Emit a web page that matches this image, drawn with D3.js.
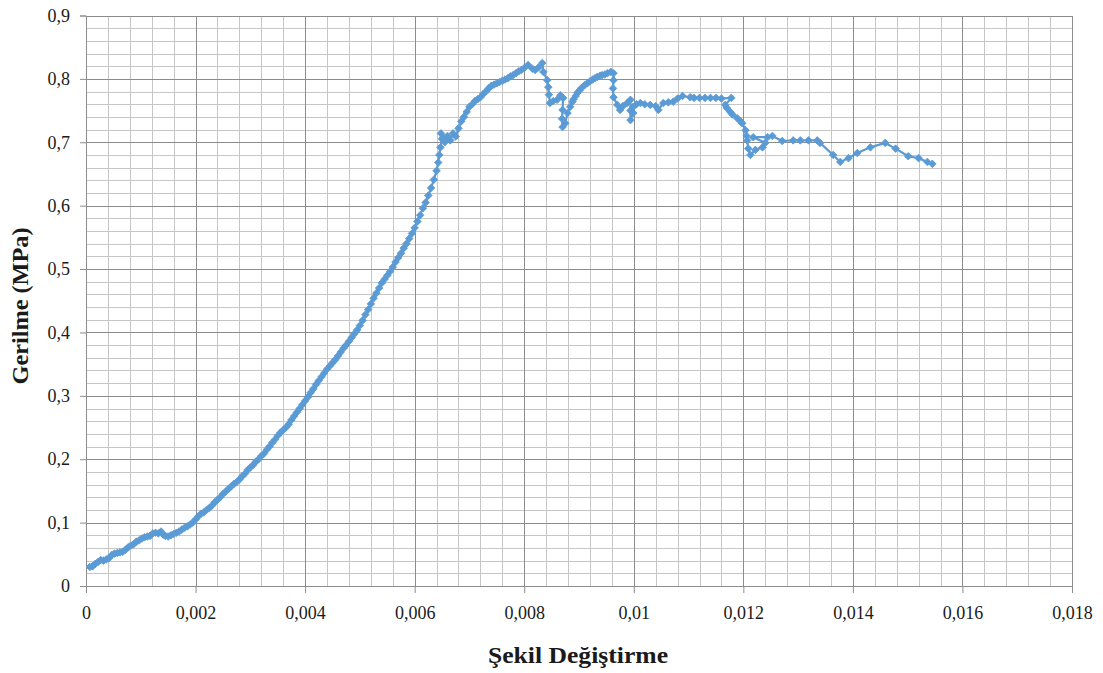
<!DOCTYPE html>
<html>
<head>
<meta charset="utf-8">
<script src="https://cdn.jsdelivr.net/npm/d3@7"></script>
<style>
  html, body { margin: 0; padding: 0; background: #fff; }
  svg { display: block; }
</style>
</head>
<body>
<svg id="chart" width="1103" height="673"></svg>
<script>
// Strain (Şekil Değiştirme) readings, one row of ten per line
const strainValues = [
  0.00007, 0.00012, 0.00017, 0.00022, 0.00027, 0.00032, 0.00037, 0.00042, 0.00047, 0.00052,
  0.00057, 0.00062, 0.00067, 0.00072, 0.00077, 0.00082, 0.00087, 0.00092, 0.00097, 0.00102,
  0.00107, 0.00112, 0.00117, 0.00122, 0.00127, 0.00132, 0.00137, 0.00141, 0.00145, 0.0015,
  0.00155, 0.0016, 0.00165, 0.0017, 0.00175, 0.0018, 0.00185, 0.0019, 0.00195, 0.0020,
  0.00205, 0.0021, 0.00215, 0.0022, 0.00225, 0.0023, 0.00235, 0.0024, 0.00245, 0.0025,
  0.00255, 0.0026, 0.00265, 0.0027, 0.00275, 0.0028, 0.00285, 0.0029, 0.00295, 0.0030,
  0.00305, 0.0031, 0.00315, 0.0032, 0.00325, 0.0033, 0.00335, 0.0034, 0.00345, 0.0035,
  0.00355, 0.0036, 0.00365, 0.0037, 0.00375, 0.0038, 0.00385, 0.0039, 0.00395, 0.0040,
  0.00405, 0.0041, 0.00415, 0.0042, 0.00425, 0.0043, 0.00435, 0.0044, 0.00445, 0.0045,
  0.00455, 0.0046, 0.00465, 0.0047, 0.00475, 0.0048, 0.00485, 0.0049, 0.00495, 0.0050,
  0.00505, 0.0051, 0.00515, 0.0052, 0.00525, 0.0053, 0.00535, 0.0054, 0.00545, 0.0055,
  0.00555, 0.0056, 0.00565, 0.0057, 0.00575, 0.0058, 0.00585, 0.0059, 0.00595, 0.0060,
  0.00605, 0.0061, 0.00615, 0.0062, 0.00625, 0.0063, 0.00635, 0.0064, 0.00643, 0.00645,
  0.00647, 0.0065, 0.00648, 0.00652, 0.00655, 0.0066, 0.00665, 0.0067, 0.00675, 0.0068,
  0.00685, 0.0069, 0.00695, 0.0070, 0.00705, 0.0071, 0.00715, 0.0072, 0.00725, 0.0073,
  0.00735, 0.0074, 0.00745, 0.0075, 0.00755, 0.0076, 0.00765, 0.0077, 0.00775, 0.0078,
  0.00785, 0.0079, 0.00795, 0.0080, 0.00807, 0.00815, 0.0082, 0.00826, 0.00833, 0.00835,
  0.00842, 0.00844, 0.00845, 0.00847, 0.00853, 0.0086, 0.00866, 0.00871, 0.0087, 0.00869,
  0.0087, 0.00875, 0.00879, 0.00884, 0.00888, 0.0089, 0.00894, 0.00897, 0.00901, 0.00905,
  0.0091, 0.00915, 0.0092, 0.00925, 0.00929, 0.00933, 0.00938, 0.00942, 0.00947, 0.00952,
  0.00958, 0.00963, 0.00963, 0.00962, 0.00963, 0.0097, 0.00975, 0.0098, 0.00988, 0.00994,
  0.00994, 0.00994, 0.00999, 0.00999, 0.01005, 0.01012, 0.0102, 0.0103, 0.0104, 0.01045,
  0.01054, 0.01063, 0.01072, 0.0108, 0.01089, 0.01103, 0.0111, 0.0112, 0.0113, 0.0114,
  0.0115, 0.0116, 0.01178, 0.01167, 0.0117, 0.01176, 0.0118, 0.01189, 0.01195, 0.01198,
  0.01204, 0.01206, 0.01207, 0.01209, 0.01213, 0.01222, 0.01235, 0.0124, 0.01218, 0.01244,
  0.01253, 0.01271, 0.01291, 0.01304, 0.01319, 0.01335, 0.0134, 0.01364, 0.01377, 0.01392,
  0.01408, 0.01432, 0.01459, 0.01478, 0.01501, 0.0152, 0.01536, 0.01545
];
// Stress (Gerilme, MPa) readings, aligned row by row with the strains above
const stressValues = [
  0.030, 0.031, 0.035, 0.038, 0.041, 0.040, 0.042, 0.044, 0.049, 0.051,
  0.052, 0.053, 0.054, 0.057, 0.061, 0.064, 0.066, 0.070, 0.072, 0.075,
  0.077, 0.078, 0.079, 0.083, 0.084, 0.083, 0.086, 0.081, 0.079, 0.078,
  0.080, 0.082, 0.084, 0.086, 0.089, 0.092, 0.094, 0.097, 0.100, 0.105,
  0.110, 0.114, 0.116, 0.120, 0.123, 0.127, 0.132, 0.136, 0.140, 0.145,
  0.149, 0.153, 0.157, 0.161, 0.164, 0.168, 0.173, 0.177, 0.183, 0.187,
  0.191, 0.196, 0.200, 0.205, 0.209, 0.215, 0.220, 0.226, 0.231, 0.237,
  0.242, 0.246, 0.250, 0.255, 0.262, 0.268, 0.274, 0.280, 0.286, 0.292,
  0.298, 0.305, 0.311, 0.318, 0.324, 0.330, 0.336, 0.342, 0.347, 0.352,
  0.357, 0.363, 0.369, 0.375, 0.380, 0.386, 0.392, 0.398, 0.404, 0.411,
  0.419, 0.428, 0.436, 0.445, 0.454, 0.462, 0.470, 0.478, 0.484, 0.490,
  0.496, 0.503, 0.511, 0.518, 0.525, 0.533, 0.540, 0.548, 0.556, 0.565,
  0.575, 0.585, 0.596, 0.605, 0.616, 0.628, 0.641, 0.655, 0.668, 0.680,
  0.692, 0.705, 0.714, 0.708, 0.700, 0.710, 0.703, 0.714, 0.709, 0.722,
  0.733, 0.740, 0.748, 0.756, 0.760, 0.765, 0.768, 0.771, 0.776, 0.780,
  0.785, 0.789, 0.791, 0.793, 0.795, 0.797, 0.799, 0.801, 0.804, 0.806,
  0.809, 0.812, 0.814, 0.817, 0.822, 0.816, 0.814, 0.818, 0.825, 0.811,
  0.798, 0.787, 0.775, 0.762, 0.765, 0.767, 0.774, 0.770, 0.751, 0.737,
  0.724, 0.730, 0.746, 0.756, 0.764, 0.768, 0.773, 0.778, 0.782, 0.786,
  0.790, 0.793, 0.796, 0.799, 0.801, 0.803, 0.805, 0.806, 0.807, 0.809,
  0.811, 0.809, 0.798, 0.785, 0.771, 0.759, 0.751, 0.757, 0.762, 0.767,
  0.750, 0.735, 0.746, 0.756, 0.760, 0.762, 0.760, 0.759, 0.757, 0.751,
  0.762, 0.763, 0.764, 0.769, 0.773, 0.771, 0.770, 0.770, 0.770, 0.770,
  0.770, 0.769, 0.770, 0.759, 0.754, 0.748, 0.744, 0.738, 0.733, 0.730,
  0.719, 0.710, 0.703, 0.690, 0.680, 0.688, 0.692, 0.699, 0.708, 0.708,
  0.710, 0.702, 0.703, 0.703, 0.703, 0.703, 0.699, 0.680, 0.669, 0.675,
  0.683, 0.692, 0.699, 0.690, 0.678, 0.675, 0.669, 0.666
];

// Axis tick values and their printed labels (comma decimal separator)
const xTickValues = [0, 0.002, 0.004, 0.006, 0.008, 0.010, 0.012, 0.014, 0.016, 0.018];
const xTickLabels = ["0", "0,002", "0,004", "0,006", "0,008", "0,01", "0,012", "0,014", "0,016", "0,018"];
const yTickValues = [0, 0.1, 0.2, 0.3, 0.4, 0.5, 0.6, 0.7, 0.8, 0.9];
const yTickLabels = ["0", "0,1", "0,2", "0,3", "0,4", "0,5", "0,6", "0,7", "0,8", "0,9"];

const xTitle = "Şekil Değiştirme";
const yTitle = "Gerilme (MPa)";

const svg = d3.select("#chart");
const plot = { left: 86, right: 1072, top: 15.5, bottom: 586 };
const serif = "'Liberation Serif', 'Times New Roman', serif";

const x = d3.scaleLinear().domain([0, 0.018]).range([plot.left, plot.right]);
const y = d3.scaleLinear().domain([0, 0.9]).range([plot.bottom, plot.top]);

// Minor grid: 5 subdivisions per major interval
const xMinor = d3.range(0, 46).filter(i => i % 5 !== 0).map(i => i * 0.0004);
const yMinor = d3.range(0, 46).filter(i => i % 5 !== 0).map(i => i * 0.02);

const grid = svg.append("g").attr("shape-rendering", "crispEdges");
const px = v => Math.round(v) + 0.5;
grid.selectAll(".vminor").data(xMinor).join("line")
  .attr("x1", d => px(x(d))).attr("x2", d => px(x(d)))
  .attr("y1", plot.top).attr("y2", plot.bottom)
  .attr("stroke", "#c6c6c6");
grid.selectAll(".hminor").data(yMinor).join("line")
  .attr("y1", d => px(y(d))).attr("y2", d => px(y(d)))
  .attr("x1", plot.left).attr("x2", plot.right)
  .attr("stroke", "#c6c6c6");
grid.selectAll(".vmajor").data(xTickValues).join("line")
  .attr("x1", d => px(x(d))).attr("x2", d => px(x(d)))
  .attr("y1", plot.top).attr("y2", plot.bottom)
  .attr("stroke", "#8c8c8c");
grid.selectAll(".hmajor").data(yTickValues).join("line")
  .attr("y1", d => px(y(d))).attr("y2", d => px(y(d)))
  .attr("x1", plot.left).attr("x2", plot.right)
  .attr("stroke", "#8c8c8c");

// Axes
const xAxis = d3.axisBottom(x).tickValues(xTickValues)
  .tickFormat((d, i) => xTickLabels[i]).tickSize(7).tickPadding(13);
const yAxis = d3.axisLeft(y).tickValues(yTickValues)
  .tickFormat((d, i) => yTickLabels[i]).tickSize(6).tickPadding(10);

const gx = svg.append("g").attr("transform", `translate(0,${plot.bottom})`).call(xAxis);
const gy = svg.append("g").attr("transform", `translate(${plot.left},0)`).call(yAxis);
[gx, gy].forEach(g => {
  g.attr("font-family", serif).attr("font-size", 18);
  g.select(".domain").attr("stroke", "#8c8c8c");
  g.selectAll(".tick line").attr("stroke", "#8c8c8c");
  g.selectAll(".tick text").attr("fill", "#1a1a1a");
});

// Data series: connecting line plus diamond markers
const n = Math.min(strainValues.length, stressValues.length);
const points = d3.range(n).map(i => [strainValues[i], stressValues[i]]);
const line = d3.line().x(d => x(d[0])).y(d => y(d[1]));
const seriesColor = "#5b9bd5";

svg.append("path")
  .datum(points)
  .attr("fill", "none")
  .attr("stroke", seriesColor)
  .attr("stroke-width", 2.2)
  .attr("stroke-linejoin", "round")
  .attr("d", line);

const r = 3.8;
svg.append("g").selectAll("path").data(points).join("path")
  .attr("transform", d => `translate(${x(d[0])},${y(d[1])})`)
  .attr("d", `M0,${-r}L${r},0L0,${r}L${-r},0Z`)
  .attr("fill", seriesColor)
  .attr("stroke", seriesColor)
  .attr("stroke-width", 0.8);

// Axis titles
svg.append("text")
  .attr("x", 578).attr("y", 663)
  .attr("text-anchor", "middle")
  .attr("font-family", serif)
  .attr("font-size", 23).attr("font-weight", "bold")
  .attr("textLength", 180).attr("lengthAdjust", "spacingAndGlyphs")
  .attr("fill", "#1a1a1a")
  .text(xTitle);

svg.append("text")
  .attr("transform", "translate(28,306) rotate(-90)")
  .attr("text-anchor", "middle")
  .attr("font-family", serif)
  .attr("font-size", 23).attr("font-weight", "bold")
  .attr("textLength", 157).attr("lengthAdjust", "spacingAndGlyphs")
  .attr("fill", "#1a1a1a")
  .text(yTitle);
</script>
</body>
</html>
